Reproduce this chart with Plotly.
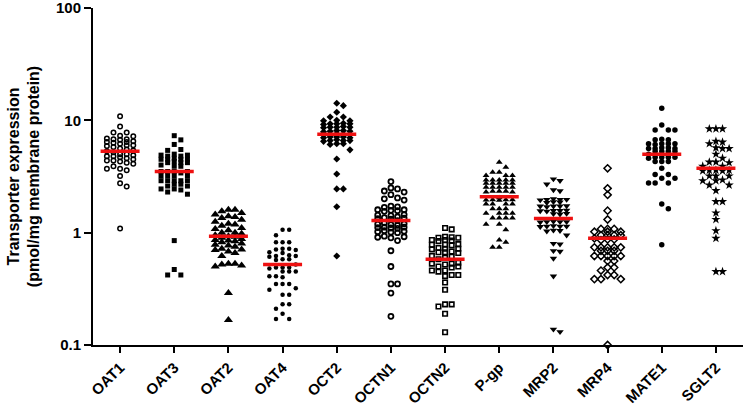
import numpy as np
import plotly.graph_objects as go

categories = ["OAT1", "OAT3", "OAT2", "OAT4", "OCT2", "OCTN1", "OCTN2",
              "P-gp", "MRP2", "MRP4", "MATE1", "SGLT2"]

oat1 = [10.9, 8.8, 7.8, 7.8, 7.3, 7.2, 6.9, 6.8, 6.8, 6.7, 6.5, 6.4, 6.4, 6.3, 6.2,
        6.0, 6.0, 5.9, 5.8, 5.6, 5.5, 5.4, 5.3, 5.2, 5.0, 5.0, 4.9, 4.8, 4.7, 4.8,
        4.6, 4.4, 4.4, 4.5, 4.3, 4.2, 4.1, 3.9, 3.7, 3.7, 3.6, 3.2, 2.75, 2.57, 1.09]
oat3 = [7.3, 6.7, 6.1, 5.5, 5.4, 5.0, 4.9, 4.9, 4.8, 4.8, 4.5, 4.5, 4.5, 4.6, 4.5,
        4.2, 4.2, 4.3, 4.2, 4.0, 3.9, 3.9, 3.5, 3.5, 3.5, 3.5, 3.4, 3.2, 3.2, 3.2,
        3.2, 2.9, 2.9, 2.9, 2.9, 2.9, 2.7, 2.7, 2.6, 2.6, 2.45, 2.45, 2.4, 2.3, 2.2,
        0.85, 0.47, 0.42, 0.42]
oat2 = [1.6, 1.6, 1.55, 1.5, 1.45, 1.4, 1.38, 1.35, 1.3, 1.25, 1.2, 1.18, 1.15, 1.1,
        1.08, 1.05, 1.0, 1.0, 0.98, 0.95, 0.93, 0.92, 0.9, 0.88, 0.86, 0.85, 0.84,
        0.82, 0.8, 0.78, 0.77, 0.75, 0.72, 0.71, 0.7, 0.68, 0.66, 0.62, 0.53, 0.53,
        0.52, 0.51, 0.5, 0.29, 0.167]
oat4 = [1.06, 1.06, 0.95, 0.82, 0.82, 0.82, 0.72, 0.72, 0.71, 0.70, 0.67, 0.66,
        0.62, 0.62, 0.61, 0.63, 0.58, 0.58, 0.57, 0.52, 0.49, 0.49, 0.48, 0.49,
        0.45, 0.45, 0.45, 0.41, 0.41, 0.40, 0.35, 0.35, 0.35, 0.32, 0.31, 0.28,
        0.28, 0.23, 0.23, 0.21, 0.19, 0.17, 0.17]
oct2 = [14.2, 13.5, 11.8, 10.7, 10.7, 10.0, 9.9, 9.9, 9.4, 9.3, 9.3, 9.2, 9.3, 8.7,
        8.7, 8.6, 8.8, 8.7, 8.1, 8.0, 8.1, 8.0, 7.9, 7.5, 7.5, 7.4, 7.5, 7.6, 7.1,
        7.0, 7.1, 7.0, 7.1, 6.6, 6.6, 6.5, 6.6, 6.7, 6.2, 6.2, 6.1, 5.46, 4.53,
        3.33, 2.45, 2.45, 1.7, 0.62]
octn1 = [2.85, 2.5, 2.45, 2.35, 2.3, 2.18, 2.04, 2.0, 1.95, 1.72, 1.7, 1.68, 1.6,
         1.6, 1.58, 1.57, 1.55, 1.45, 1.43, 1.42, 1.38, 1.36, 1.35, 1.33, 1.32,
         1.28, 1.22, 1.2, 1.19, 1.18, 1.16, 1.12, 1.12, 1.11, 1.1, 1.09, 1.04, 1.03,
         1.02, 1.01, 1.0, 0.93, 0.92, 0.91, 0.9, 0.85, 0.69, 0.50, 0.35, 0.35,
         0.29, 0.18]
octn2 = [1.1, 1.07, 0.92, 0.90, 0.90, 0.91, 0.86, 0.86, 0.85, 0.84, 0.79,
         0.78, 0.78, 0.77, 0.72, 0.72, 0.73, 0.71, 0.68, 0.67, 0.67,
         0.66, 0.62, 0.61, 0.60, 0.58, 0.53, 0.53, 0.54, 0.52, 0.50,
         0.50, 0.49, 0.46, 0.46, 0.45, 0.42, 0.42, 0.41, 0.36, 0.31,
         0.23, 0.23, 0.22, 0.19, 0.13]
pgp = [4.24, 3.82, 3.45, 3.45, 3.22, 3.22, 3.22, 2.95, 2.95, 2.95, 2.95, 2.95,
       2.75, 2.75, 2.75, 2.75, 2.75, 2.54, 2.54, 2.54, 2.54, 2.54, 2.34, 2.34, 2.3,
       2.34, 2.3, 2.05, 1.96, 1.96, 1.95, 1.96, 1.94, 1.8, 1.8, 1.8, 1.8, 1.63,
       1.63, 1.63, 1.49, 1.49, 1.49, 1.49, 1.35, 1.35, 1.35, 1.35, 1.19, 1.19,
       1.06, 0.86, 0.82, 0.74, 0.74]
mrp2 = [3.0, 2.9, 2.7, 2.4, 2.35, 2.0, 1.97, 1.97, 1.95, 1.97, 1.88, 1.85, 1.87,
        1.73, 1.72, 1.72, 1.70, 1.72, 1.58, 1.57, 1.55, 1.57, 1.56, 1.48, 1.46,
        1.47, 1.25, 1.25, 1.24, 1.26, 1.25, 1.14, 1.14, 1.13, 1.15, 1.14, 1.05,
        1.04, 1.03, 0.95, 0.80, 0.79, 0.69, 0.68, 0.59, 0.41, 0.138, 0.131]
mrp4 = [3.74, 2.48, 2.17, 1.57, 1.31, 1.08, 1.08, 1.08, 1.02, 1.02, 1.02, 0.95,
        0.95, 0.95, 0.95, 0.89, 0.87, 0.86, 0.87, 0.74, 0.74, 0.74, 0.74, 0.74,
        0.69, 0.69, 0.69, 0.62, 0.62, 0.62, 0.62, 0.62, 0.56, 0.56, 0.49, 0.49,
        0.46, 0.42, 0.42, 0.386, 0.386, 0.386, 0.1]
mate1 = [12.8, 9.1, 8.2, 8.2, 8.2, 6.8, 6.7, 6.7, 6.2, 6.2, 6.1, 6.2, 6.2, 5.7,
         5.6, 5.6, 5.7, 5.6, 5.3, 5.3, 5.3, 5.3, 5.0, 4.7, 4.7, 4.6, 4.7, 4.7, 4.3,
         4.3, 4.3, 3.74, 3.3, 3.3, 3.05, 3.05, 2.77, 2.77, 2.77, 1.80, 1.63, 0.78]
sglt2 = [8.4, 8.4, 8.4, 6.5, 6.4, 6.2, 5.7, 5.6, 5.6, 5.0, 4.6, 4.25,
         4.25, 4.2, 3.9, 3.9, 3.6, 3.6, 3.55, 3.6, 3.55, 3.2, 3.2, 3.2, 2.95,
         2.9, 2.9, 2.65, 2.65, 2.37, 1.89, 1.89, 1.50, 1.31, 1.04, 0.89, 0.45,
         0.45]

medians = [5.3, 3.5, 0.93, 0.52, 7.5, 1.28, 0.58, 2.09, 1.34, 0.89, 5.0, 3.74]

series = [oat1, oat3, oat2, oat4, oct2, octn1, octn2, pgp, mrp2, mrp4, mate1, sglt2]

# marker styles per category
symbols = ["circle-open", "square", "triangle-up", "circle", "diamond", "circle-open",
           "square-open", "triangle-up", "triangle-down", "diamond-open", "circle", "star"]
sizes = [4.5, 5, 8, 4.5, 5.5, 5, 4.5, 6, 6.5, 5.5, 5.5, 7]
lwidths = [1.5, 0, 0, 0, 0, 1.8, 1.6, 0, 0, 1.5, 0, 0]

W, H = 743, 406
ML, MR, MT, MB = 93, 0, 8, 61
px_per_unit = (W - ML - MR) / 12.0
px_per_decade = (H - MT - MB) / 3.0


def swarm_offsets(values, slot=6.6, dot=6.3, max_k=2):
    ys = np.log10(np.asarray(values, float)) * px_per_decade
    order = np.argsort(-ys)
    cands = [0]
    for k in range(1, max_k + 1):
        cands += [k, -k]
    placed = []
    offs = np.zeros(len(ys))
    for idx in order:
        chosen, bestx, bestd = None, 0.0, -1.0
        for c in cands:
            x = c * slot
            d = min((np.hypot(x - px, ys[idx] - py) for px, py in placed), default=1e9)
            if d >= dot:
                chosen = x
                break
            if d > bestd:
                bestd, bestx = d, x
        if chosen is None:
            chosen = bestx
        placed.append((chosen, ys[idx]))
        offs[idx] = chosen / px_per_unit
    return offs


fig = go.Figure()
for i, (vals, sym, sz, lw) in enumerate(zip(series, symbols, sizes, lwidths)):
    offs = swarm_offsets(vals)
    fig.add_trace(go.Scatter(
        x=i + offs, y=vals, mode="markers",
        marker=dict(symbol=sym, size=sz, color="black",
                    line=dict(color="black", width=lw)),
        showlegend=False, hoverinfo="y", cliponaxis=False))

mx, my = [], []
for i, m in enumerate(medians):
    mx += [i - 0.36, i + 0.36, None]
    my += [m, m, None]
fig.add_trace(go.Scatter(x=mx, y=my, mode="lines",
                         line=dict(color="#ee1111", width=3.5),
                         showlegend=False, hoverinfo="skip"))

font_family = "Liberation Sans, Arial, sans-serif"
fig.update_layout(
    width=W, height=H,
    margin=dict(l=ML, r=MR, t=MT, b=MB, autoexpand=False),
    plot_bgcolor="white", paper_bgcolor="white",
    font=dict(family=font_family, color="black"),
    xaxis=dict(range=[-0.5, 11.5], tickmode="array", tickvals=list(range(12)),
               ticktext=categories, tickangle=-45, automargin=False,
               ticklabeloverflow="allow",
               tickfont=dict(size=15, weight="bold", family=font_family),
               showline=True, linecolor="black", linewidth=2,
               ticks="outside", ticklen=6, tickwidth=2, tickcolor="black",
               showgrid=False, zeroline=False),
    yaxis=dict(type="log", range=[-1, 2], tickmode="array", automargin=False,
               ticklabeloverflow="allow",
               tickvals=[0.1, 1, 10, 100], ticktext=["0.1", "1", "10", "100"],
               tickfont=dict(size=15, weight="bold", family=font_family),
               showline=True, linecolor="black", linewidth=2,
               ticks="outside", ticklen=7, tickwidth=2, tickcolor="black",
               showgrid=False, zeroline=False,
               title=dict(text="<b>Transporter expression<br>(pmol/mg membrane protein)</b>",
                          font=dict(size=16, family=font_family), standoff=12)),
)

fig.write_html("out.html", config={"displayModeBar": False},
               post_script="document.body.style.margin='0';document.body.style.overflow='hidden';")
